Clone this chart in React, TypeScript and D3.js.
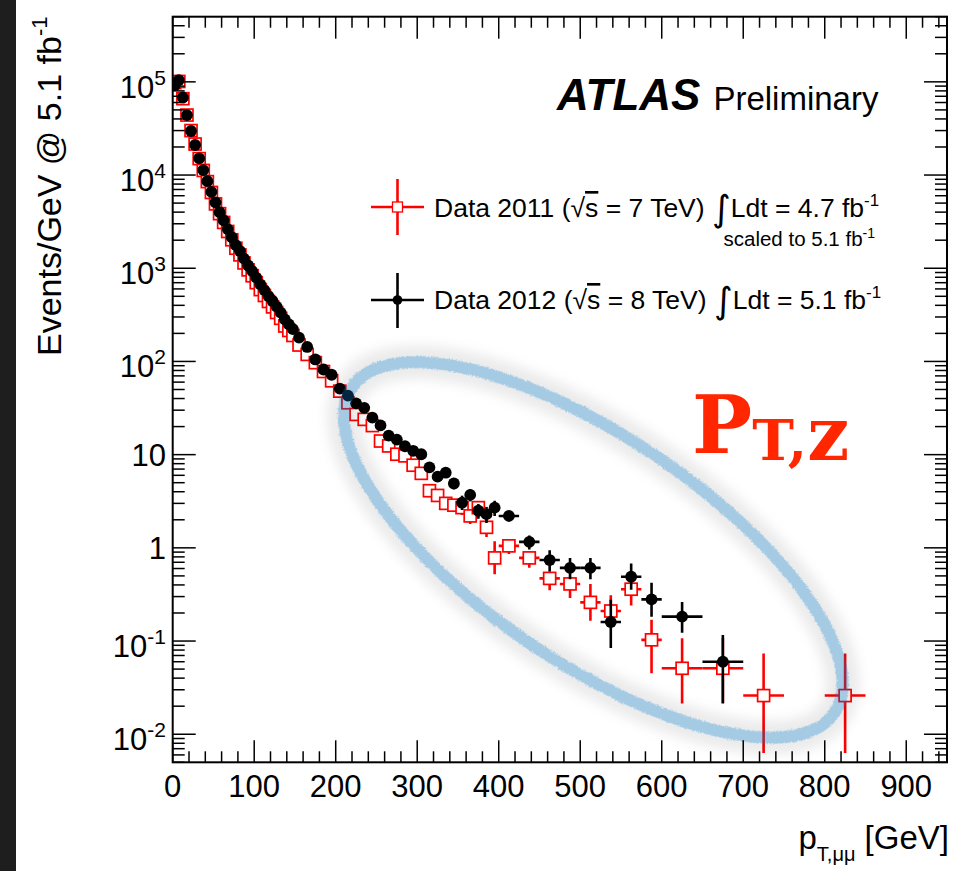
import React from "react";
import * as d3 from "d3";

// ---- bins (GeV) ----
const binCenters = [
  2.5, 7.5, 12.5, 17.5, 22.5, 27.5, 32.5, 37.5, 42.5, 47.5,
  52.5, 57.5, 62.5, 67.5, 72.5, 77.5, 82.5, 87.5, 92.5, 97.5,
  102.5, 107.5, 112.5, 117.5, 122.5, 127.5, 132.5, 137.5, 142.5, 147.5,
  155, 165, 175, 185, 195, 205, 215, 225, 235, 245,
  255, 265, 275, 285, 295, 305, 315, 325, 335, 345,
  355, 365, 375, 385, 395,
  412.5, 437.5, 462.5, 487.5, 512.5, 537.5, 562.5, 587.5,
  625, 675, 725, 825,
];
const binHalfWidths = [
  2.5, 2.5, 2.5, 2.5, 2.5, 2.5, 2.5, 2.5, 2.5, 2.5,
  2.5, 2.5, 2.5, 2.5, 2.5, 2.5, 2.5, 2.5, 2.5, 2.5,
  2.5, 2.5, 2.5, 2.5, 2.5, 2.5, 2.5, 2.5, 2.5, 2.5,
  5, 5, 5, 5, 5, 5, 5, 5, 5, 5,
  5, 5, 5, 5, 5, 5, 5, 5, 5, 5,
  5, 5, 5, 5, 5,
  12.5, 12.5, 12.5, 12.5, 12.5, 12.5, 12.5, 12.5,
  25, 25, 25, 25,
];

// ---- Data 2012 (sqrt(s) = 8 TeV), events / GeV ----
const events2012 = [
  92000, 104500, 68000, 44000, 29700, 21000, 15100, 11300, 8600, 6600,
  5100, 4000, 3270, 2630, 2150, 1770, 1530, 1270, 1070, 933,
  793, 671, 583, 503, 445, 387, 334, 283, 250, 222,
  180, 143, 105, 82, 72, 51, 43, 35.5, 31.8, 25,
  20.6, 16, 14.5, 12.3, 11, 10.1, 7.3, 5.8, 6.4, 4.9,
  3.05, 3.7, 2.5, 2.3, 2.7,
  2.2, 1.16, 0.74, 0.61, 0.61, 0.16, 0.49, 0.28,
  0.183, 0.06, null, null,
];
const err2012Low = [
  0, 0, 0, 0, 0, 0, 0, 0, 0, 0,
  0, 0, 0, 0, 0, 0, 0, 0, 0, 0,
  0, 0, 0, 0, 0, 0, 0, 0, 0, 0,
  0, 0, 0, 0, 0, 0, 0, 0, 0, 0,
  0, 0, 0, 0, 0, 0.95, 0.8, 0.7, 0.75, 0.65,
  0.5, 0.55, 0.45, 0.45, 0.5,
  0.28, 0.2, 0.18, 0.15, 0.15, 0.076, 0.135, 0.098,
  0.06, 0.0385, 0, 0,
];
const err2012High = [
  0, 0, 0, 0, 0, 0, 0, 0, 0, 0,
  0, 0, 0, 0, 0, 0, 0, 0, 0, 0,
  0, 0, 0, 0, 0, 0, 0, 0, 0, 0,
  0, 0, 0, 0, 0, 0, 0, 0, 0, 0,
  0, 0, 0, 0, 0, 0.95, 0.8, 0.7, 0.75, 0.65,
  0.58, 0.55, 0.45, 0.45, 0.5,
  0.28, 0.2, 0.2, 0.17, 0.17, 0.118, 0.19, 0.142,
  0.08, 0.056, 0, 0,
];

// ---- Data 2011 (sqrt(s) = 7 TeV), scaled to 5.1 fb-1 ----
const events2011 = [
  98000, 101000, 66000, 44000, 30000, 21500, 15000, 11200, 8500, 6500,
  4900, 3850, 3100, 2480, 2020, 1640, 1390, 1140, 960, 830,
  700, 590, 510, 440, 385, 335, 290, 240, 215, 190,
  150, 119, 97, 78, 62, 48, 36, 27, 23.9, 20.5,
  14.0, 12.4, 10.1, 9.7, 7.7, 6.3, 4.1, 3.65, 3.0, 2.87,
  2.7, 2.2, 2.7, 1.66, 0.78,
  1.05, 0.78, 0.47, 0.41, 0.26, 0.21, 0.36, 0.103,
  0.051, 0.051, 0.026, 0.026,
];
const err2011Low = [
  0, 0, 0, 0, 0, 0, 0, 0, 0, 0,
  0, 0, 0, 0, 0, 0, 0, 0, 0, 0,
  0, 0, 0, 0, 0, 0, 0, 0, 0, 0,
  0, 0, 0, 0, 0, 0, 0, 0, 0, 0,
  0, 0, 0, 0, 0, 0, 0.55, 0.5, 0.45, 0.45,
  0.45, 0.4, 0.45, 0.35, 0.26,
  0.19, 0.17, 0.12, 0.12, 0.095, 0.07, 0.12, 0.058,
  0.0296, 0.0296, 0.0197, 0.0197,
];
const err2011High = [
  0, 0, 0, 0, 0, 0, 0, 0, 0, 0,
  0, 0, 0, 0, 0, 0, 0, 0, 0, 0,
  0, 0, 0, 0, 0, 0, 0, 0, 0, 0,
  0, 0, 0, 0, 0, 0, 0, 0, 0, 0,
  0, 0, 0, 0, 0, 0, 0.55, 0.5, 0.45, 0.45,
  0.45, 0.4, 0.45, 0.35, 0.4,
  0.19, 0.14, 0.09, 0.08, 0.15, 0.1, 0.1, 0.066,
  0.056, 0.056, 0.0476, 0.0476,
];

// ---- axes ----
const xTickValues = [0, 100, 200, 300, 400, 500, 600, 700, 800, 900];
const yTickValues = [1e5, 1e4, 1e3, 1e2, 10, 1, 0.1, 0.01];
const yTickBase = ["10", "10", "10", "10", "10", "1", "10", "10"];
const yTickExp = ["5", "4", "3", "2", "", "", "-1", "-2"];

// highlight annotation (centre in data coordinates)
const ellipseCenterPt = 516;
const ellipseCenterVal = 0.95;

const W = 961;
const H = 871;
const L = 172.7, R = 947, T = 16.7, B = 762.3;
const FONT = "'Liberation Sans', Arial, Helvetica, sans-serif";

export default function App() {
  const x = d3.scaleLinear().domain([0, 950]).range([L, R]);
  const y = d3.scaleLog().domain([0.005, 5e5]).range([B, T]);
  const [yMin, yMax] = y.domain();

  const minorX = d3.range(0, 950, 20);
  const yMinor: number[] = [];
  for (let e = -3; e <= 5; e++) {
    for (let m = 1; m <= 9; m++) {
      const v = m * Math.pow(10, e);
      if (v >= yMin * 0.999 && v <= yMax * 1.001) yMinor.push(v);
    }
  }
  const isMajorY = (v: number) => Math.abs(Math.log10(v) - Math.round(Math.log10(v))) < 1e-6;

  const clampV = (v: number) => Math.max(yMin, Math.min(yMax, v));

  const series = (vals: (number | null)[], lo: number[], hi: number[]) =>
    binCenters
      .map((c, i) => ({ c, hw: binHalfWidths[i], v: vals[i], lo: lo[i], hi: hi[i] }))
      .filter((d) => d.v !== null) as { c: number; hw: number; v: number; lo: number; hi: number }[];

  const s2011 = series(events2011, err2011Low, err2011High);
  const s2012 = series(events2012, err2012Low, err2012High);

  const ecx = x(ellipseCenterPt);
  const ecy = y(ellipseCenterVal);

  return (
    <svg
      width={W}
      height={H}
      viewBox={`0 0 ${W} ${H}`}
      style={{ position: "absolute", left: 0, top: 0, background: "#fff" }}
      fontFamily={FONT}
    >
      <defs>
        <clipPath id="plotClip">
          <rect x={L} y={T} width={R - L} height={B - T} />
        </clipPath>
        <filter id="chalk" x="-10%" y="-10%" width="120%" height="120%">
          <feTurbulence type="fractalNoise" baseFrequency="0.8" numOctaves="2" seed="3" result="n" />
          <feDisplacementMap in="SourceGraphic" in2="n" scale="4" xChannelSelector="R" yChannelSelector="G" />
        </filter>
        <filter id="halo" x="-20%" y="-20%" width="140%" height="140%">
          <feGaussianBlur stdDeviation="6" />
        </filter>
      </defs>

      <rect x={0} y={0} width={W} height={H} fill="#fff" />
      <rect x={0} y={0} width={16} height={H} fill="#1e1e1e" />

      {/* data */}
      <g clipPath="url(#plotClip)">
        {s2011.map((d, i) => (
          <g key={"r" + i} stroke="#ff0000" strokeWidth={2.6}>
            <line x1={x(d.c - d.hw)} x2={x(d.c + d.hw)} y1={y(d.v)} y2={y(d.v)} />
            <line x1={x(d.c)} x2={x(d.c)} y1={y(clampV(d.v - d.lo))} y2={y(clampV(d.v + d.hi))} />
          </g>
        ))}
        {s2011.map((d, i) => (
          <rect
            key={"rs" + i}
            x={x(d.c) - 6}
            y={y(d.v) - 6}
            width={12}
            height={12}
            fill="#fff"
            stroke="#ff0000"
            strokeWidth={1.7}
          />
        ))}
        {s2012.map((d, i) => (
          <g key={"b" + i} stroke="#000" strokeWidth={2.6}>
            <line x1={x(d.c - d.hw)} x2={x(d.c + d.hw)} y1={y(d.v)} y2={y(d.v)} />
            <line x1={x(d.c)} x2={x(d.c)} y1={y(clampV(d.v - d.lo))} y2={y(clampV(d.v + d.hi))} />
          </g>
        ))}
        {s2012.map((d, i) => (
          <circle key={"bc" + i} cx={x(d.c)} cy={y(d.v)} r={5.9} fill="#000" />
        ))}
      </g>

      {/* ellipse highlight */}
      <g transform={`translate(${ecx},${ecy}) rotate(34)`}>
        <ellipse rx={291} ry={113} fill="none" stroke="#000" strokeOpacity={0.08} strokeWidth={34} filter="url(#halo)" />
        <ellipse
          rx={291}
          ry={113}
          fill="none"
          stroke="#057dd4"
          strokeOpacity={0.3}
          strokeWidth={12}
          filter="url(#chalk)"
        />
      </g>

      {/* frame */}
      <rect x={L} y={T} width={R - L} height={B - T} fill="none" stroke="#000" strokeWidth={2} />

      {/* ticks */}
      <g stroke="#000" strokeWidth={1.5}>
        {minorX.map((v) => {
          const len = v % 100 === 0 ? 22 : 11;
          return (
            <g key={"xt" + v}>
              <line x1={x(v)} x2={x(v)} y1={B} y2={B - len} />
              <line x1={x(v)} x2={x(v)} y1={T} y2={T + len} />
            </g>
          );
        })}
        {yMinor.map((v, i) => {
          const len = isMajorY(v) ? 23 : 12;
          return (
            <g key={"yt" + i}>
              <line x1={L} x2={L + len} y1={y(v)} y2={y(v)} />
              <line x1={R} x2={R - len} y1={y(v)} y2={y(v)} />
            </g>
          );
        })}
      </g>

      {/* x tick labels */}
      {xTickValues.map((v) => (
        <text key={"xl" + v} x={x(v)} y={797} fontSize={31} textAnchor="middle" fill="#000">
          {v}
        </text>
      ))}

      {/* y tick labels */}
      {yTickValues.map((v, i) => (
        <text
          key={"yl" + i}
          x={166}
          y={y(v) + (yTickExp[i] ? 16 : 11)}
          fontSize={31}
          textAnchor="end"
          fill="#000"
        >
          {yTickBase[i]}
          {yTickExp[i] ? (
            <tspan fontSize={21} dy={-13}>
              {yTickExp[i]}
            </tspan>
          ) : null}
        </text>
      ))}

      {/* axis titles */}
      <text transform="translate(61,356) rotate(-90)" fontSize={34} fill="#000">
        Events/GeV @ 5.1 fb
        <tspan fontSize={22} dy={-14}>-1</tspan>
      </text>
      <text x={949} y={849} fontSize={33} textAnchor="end" fill="#000">
        p
        <tspan fontSize={20} dy={12}>T,μμ</tspan>
        <tspan dy={-12}> [GeV]</tspan>
      </text>

      {/* ATLAS label */}
      <text x={557} y={110} fill="#000">
        <tspan fontSize={44} fontWeight="bold" fontStyle="italic">ATLAS</tspan>
        <tspan fontSize={33} dx={13}>Preliminary</tspan>
      </text>

      {/* legend */}
      <g>
        <line x1={371} x2={424} y1={207} y2={207} stroke="#ff0000" strokeWidth={2.6} />
        <line x1={397.5} x2={397.5} y1={179} y2={235} stroke="#ff0000" strokeWidth={2.6} />
        <rect x={392.5} y={202} width={10} height={10} fill="#fff" stroke="#ff0000" strokeWidth={1.3} />
        <text x={434} y={217} fontSize={26.5} fill="#000">
          Data 2011 (√<tspan style={{ textDecoration: "overline" }}>s</tspan> = 7 TeV){" "}
          <tspan fontFamily="'DejaVu Sans'" fontSize={36} dy={4}>∫</tspan>
          <tspan dy={-4}>Ldt = 4.7 fb</tspan>
          <tspan fontSize={17} dy={-11}>-1</tspan>
        </text>
        <text x={875} y={246} fontSize={20.5} textAnchor="end" fill="#000">
          scaled to 5.1 fb<tspan fontSize={14} dy={-8}>-1</tspan>
        </text>

        <line x1={371} x2={424} y1={300} y2={300} stroke="#000" strokeWidth={2.6} />
        <line x1={397.5} x2={397.5} y1={273} y2={328} stroke="#000" strokeWidth={2.6} />
        <circle cx={397.5} cy={300} r={4.8} fill="#000" />
        <text x={434} y={309} fontSize={26.5} fill="#000">
          Data 2012 (√<tspan style={{ textDecoration: "overline" }}>s</tspan> = 8 TeV){" "}
          <tspan fontFamily="'DejaVu Sans'" fontSize={36} dy={4}>∫</tspan>
          <tspan dy={-4}>Ldt = 5.1 fb</tspan>
          <tspan fontSize={17} dy={-11}>-1</tspan>
        </text>
      </g>

      {/* P_T,Z annotation */}
      <text x={692} y={453} fill="#ff2600" fontFamily="'DejaVu Serif', serif" fontWeight="bold" fontSize={80}>
        P
        <tspan fontSize={56} dy={7}>T,</tspan>
        <tspan fontSize={74}>z</tspan>
      </text>
    </svg>
  );
}
